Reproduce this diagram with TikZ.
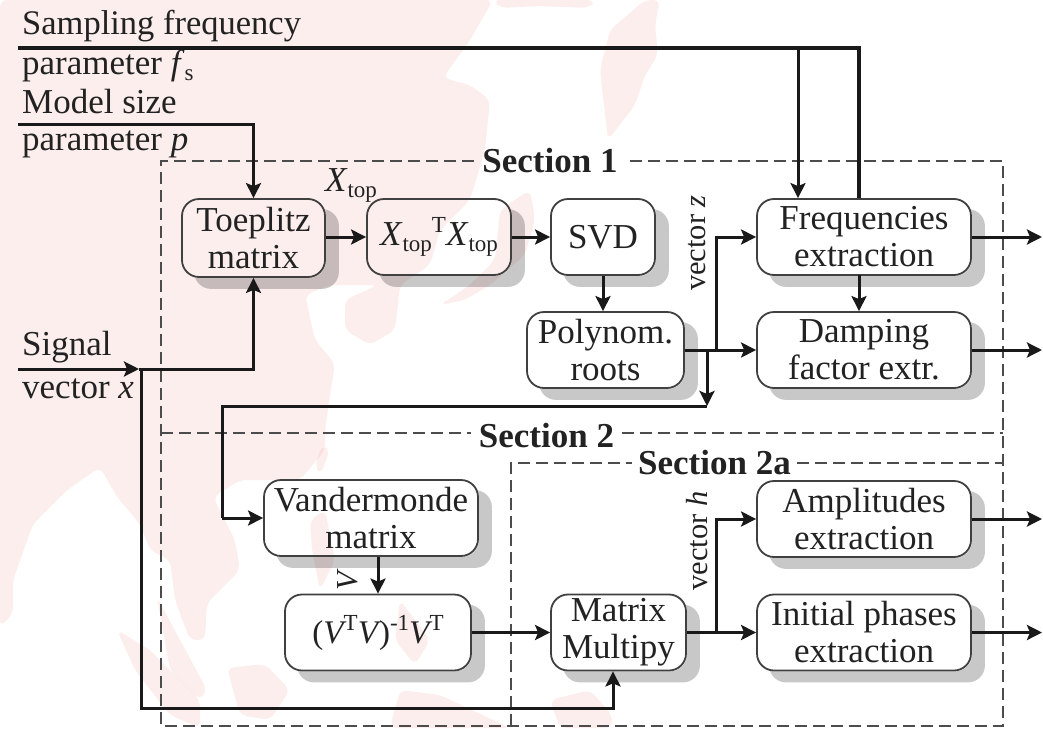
\documentclass[tikz,border=0pt]{standalone}
\usepackage{fontspec}
\setmainfont{Liberation Serif}
\usetikzlibrary{arrows.meta}
\pgfdeclarelayer{shad}
\pgfdeclarelayer{mapl}
\pgfsetlayers{shad,mapl,main}
\definecolor{mapc}{HTML}{FDEEEE}
\definecolor{shadc}{HTML}{C8C8C8}
\definecolor{inkc}{HTML}{222222}
\newcommand{\sbs}[1]{\raisebox{-6pt}{\fontsize{23}{23}\selectfont #1}}
\newcommand{\sps}[1]{\raisebox{13pt}{\fontsize{23}{23}\selectfont #1}}
\newcommand{\Xtop}{\textit{X}\sbs{top}}
\tikzset{
  x=1pt,y=-1pt,
  every node/.style={text=inkc,font=\fontsize{35}{37}\selectfont},
  blockn/.style={draw=black!75,line width=1.8pt,rounded corners=17pt,inner sep=0pt,align=center,minimum height=76pt},
  wire/.style={draw=black!90,line width=3pt},
  arr/.style={wire,-{Stealth[length=15pt,width=15pt,inset=3pt]}},
  frame/.style={draw=black!70,line width=1.6pt,dash pattern=on 12pt off 6pt},
  lab/.style={inner sep=0pt,anchor=base west},
  sect/.style={inner sep=0pt,font=\fontsize{35}{37}\selectfont\bfseries},
  rotlab/.style={inner sep=0pt,rotate=90,font=\fontsize{30.5}{32}\selectfont},
  mapshape/.style={fill=mapc,rounded corners=7pt},
}
\begin{document}
\begin{tikzpicture}
\useasboundingbox (0,0) rectangle (1043,728);

% blocks
\node[blockn,minimum width=143pt,minimum height=78pt] (toe) at (253.5,238) {Toeplitz\\matrix};
\node[blockn,minimum width=144pt] (xtx) at (439,237) {\Xtop\sps{T}\Xtop};
\node[blockn,minimum width=104pt] (svd) at (603,237) {SVD};
\node[blockn,minimum width=157pt] (pol) at (605.5,350) {Polynom.\\roots};
\node[blockn,minimum width=214pt] (fre) at (864,237) {Frequencies\\extraction};
\node[blockn,minimum width=214pt] (dam) at (864,350) {Damping\\factor extr.};
\node[blockn,minimum width=214pt] (van) at (371,518) {Vandermonde\\matrix};
\node[blockn,minimum width=186pt,font=\fontsize{33}{37}\selectfont] (inv) at (378,632.5) {(\textit{V}\kern-3pt\sps{T}\textit{V}\kern-2pt)\sps{-1}\textit{V}\kern-3pt\sps{T}};
\node[blockn,minimum width=135pt] (mat) at (618.5,632.5) {Matrix\\Multipy};
\node[blockn,minimum width=214pt] (amp) at (864,519) {Amplitudes\\extraction};
\node[blockn,minimum width=214pt] (ini) at (864,632.5) {Initial phases\\extraction};

% shadows and faint map underneath
\begin{pgfonlayer}{shad}
\fill[white] (0,0) rectangle (1043,728);
\foreach \n in {toe,xtx,svd,pol,fre,dam,van,inv,mat,amp,ini}
  \fill[shadc,rounded corners=17pt] ([shift={(13,11)}]\n.north west) rectangle ([shift={(13,11)}]\n.south east);
\foreach \n in {toe,xtx,svd,pol,fre,dam,van,inv,mat,amp,ini}
  \fill[white,rounded corners=17pt] (\n.north west) rectangle (\n.south east);
\end{pgfonlayer}
\begin{pgfonlayer}{mapl}
\begin{scope}[blend mode=multiply]
\fill[mapshape] (0,0) -- (493,0) -- (470,40) -- (443,78) -- (470,85) -- (490,100) -- (485,150) -- (470,200)
  -- (440,230) -- (430,265) -- (400,285) -- (395,330) -- (370,345) -- (345,330) -- (345,300) -- (378,285)
  -- (330,285) -- (305,295) -- (315,340) -- (335,364) -- (330,395) -- (325,430) -- (325,450) -- (300,480)
  -- (240,480) -- (213,497) -- (235,540) -- (240,570) -- (207,603) -- (205,640) -- (190,640) -- (175,600)
  -- (170,560) -- (150,550) -- (140,524) -- (117,497) -- (100,467) -- (67,490) -- (33,524) -- (13,580)
  -- (13,614) -- (0,627) -- cycle;
\fill[mapshape] (493,0) -- (595,0) -- (590,8) -- (540,6) -- (500,8) -- cycle;
\fill[mapshape] (645,0) -- (660,0) -- (655,25) -- (658,55) -- (645,75) -- (635,105) -- (608,140) -- (600,70) -- (610,30) -- cycle;
\fill[mapshape] (500,210) -- (530,190) -- (535,220) -- (525,255) -- (490,285) -- (465,300) -- (440,305) -- (470,285) -- (495,260) -- cycle;
\fill[mapshape] (157,597) -- (180,640) -- (207,690) -- (200,700) -- (170,670) -- cycle;
\fill[mapshape] (117,630) -- (150,650) -- (200,700) -- (200,728) -- (170,715) -- (135,670) -- cycle;
\fill[mapshape] (227,668) -- (265,664) -- (290,690) -- (270,720) -- (240,715) -- cycle;
\fill[mapshape] (310,520) -- (325,510) -- (335,560) -- (320,590) -- (312,550) -- cycle;
\fill[mapshape] (322,445) -- (330,450) -- (320,475) -- (315,465) -- cycle;
\fill[mapshape] (400,600) -- (430,640) -- (415,665) -- (395,640) -- cycle;
\fill[mapshape] (400,690) -- (440,695) -- (510,728) -- (390,728) -- cycle;
\fill[mapshape] (550,700) -- (590,690) -- (612,715) -- (612,728) -- (560,728) -- cycle;
\end{scope}
\end{pgfonlayer}

% dashed section frames
\node[sect] (s1) at (550,161) {Section 1};
\node[sect] (s2) at (546.5,436) {Section 2};
\node[sect] (s2a) at (714.5,463) {Section 2a};
\coordinate (ftl) at (161,161);
\coordinate (ftr) at (1003,161);
\coordinate (fbl) at (161,726);
\coordinate (fbr) at (1003,726);
\coordinate (s2l) at (161,433);
\coordinate (s2r) at (1003,433);
\coordinate (atl) at (511,463);
\coordinate (atr) at (1003,463);
\coordinate (abl) at (511,726);
\draw[frame] ([xshift=-8pt]s1.west |- ftl) -- (ftl) -- (fbl) -- (fbr) -- (ftr) -- ([xshift=8pt]s1.east |- ftr);
\draw[frame] (s2l) -- ([xshift=-8pt]s2.west |- s2l);
\draw[frame] ([xshift=8pt]s2.east |- s2r) -- (s2r);
\draw[frame] (abl) -- (atl) -- ([xshift=-6pt]s2a.west |- atl);
\draw[frame] ([xshift=6pt]s2a.east |- atr) -- (atr);

% input labels
\node[lab,font=\fontsize{34.5}{37}\selectfont] (t1) at (22,34) {Sampling frequency};
\node[lab] (t2) at (22,74) {parameter \textit{f}\sbs{s}};
\node[lab] (t3) at (22,113) {Model size};
\node[lab] (t4) at (22,150) {parameter \textit{p}};
\node[lab] (t5) at (22,355) {Signal};
\node[lab] (t6) at (22,398) {vector \textit{x}};
\node[inner sep=0pt] (xl) at (351,185) {\Xtop};
\node[rotlab] (vz) at (697,243) {vector \textit{z}};
\node[rotlab] (vh) at (697,541) {vector \textit{h}};
\node[rotlab] (vv) at (348,580) {\textit{V}};

% connectors
\coordinate (fsin) at (18,48);
\coordinate (fsb) at (798,48);
\coordinate (fsc) at (859,48);
\draw[wire,line width=3.4pt] (fsin) -- (fsc) -- (fsc |- fre.north);
\draw[arr] (fsb) -- (fsb |- fre.north);

\coordinate (pin) at (18,124);
\coordinate (pc) at (toe.north |- pin);
\draw[arr] (pin) -- (pc) -- (toe.north);

\coordinate (xin) at (18,369);
\coordinate (xa) at (139,369);
\coordinate (xb) at (141,369);
\coordinate (xc) at (toe.south |- xin);
\coordinate (xd) at (141,708);
\coordinate (xe) at (613,708);
\draw[arr] (xin) -- (xa);
\draw[arr] (xa) -- (xc) -- (toe.south);
\draw[arr] (xb) -- (xd) -- (xe) -- (xe |- mat.south);

\draw[arr] (toe.east |- xtx.west) -- (xtx.west);
\draw[arr] (xtx.east) -- (svd.west);
\draw[arr] (svd.south) -- (svd.south |- pol.north);

\coordinate (zb) at (716,350);
\coordinate (zc) at (707,350);
\coordinate (zd) at (707,406);
\coordinate (ze) at (222,406);
\coordinate (zf) at (222,518);
\draw[arr] (pol.east) -- (dam.west);
\draw[arr] (zb) |- (fre.west);
\draw[arr] (zc) -- (zd);
\draw[wire] (zd) -- (ze) -- (zf);
\draw[arr] (zf) -- (van.west);

\coordinate (fd) at (859,275);
\draw[arr] (fd) -- (fd |- dam.north);

\coordinate (o1) at (1042,237);
\coordinate (o2) at (1042,350);
\coordinate (o3) at (1042,519);
\coordinate (o4) at (1042,632.5);
\draw[arr] (fre.east) -- (o1);
\draw[arr] (dam.east) -- (o2);
\draw[arr] (amp.east) -- (o3);
\draw[arr] (ini.east) -- (o4);

\coordinate (vt) at (378,557);
\draw[arr] (vt) -- (vt |- inv.north);
\draw[arr] (inv.east) -- (mat.west);
\coordinate (hb) at (716,632.5);
\draw[arr] (mat.east) -- (ini.west);
\draw[arr] (hb) |- (amp.west);
\end{tikzpicture}
\end{document}
